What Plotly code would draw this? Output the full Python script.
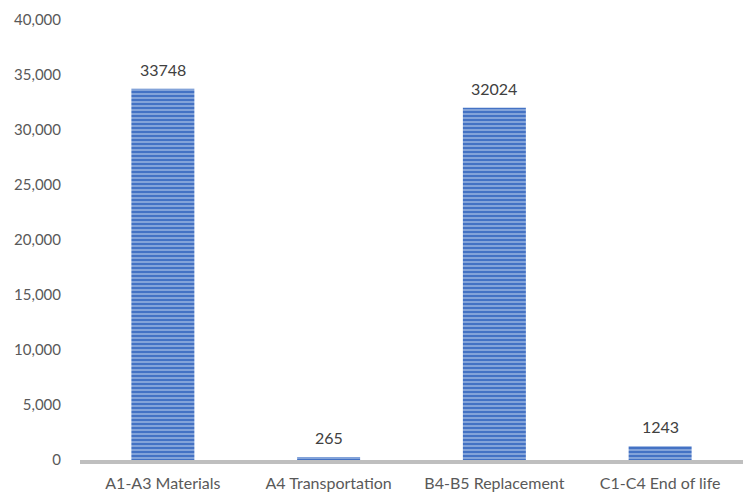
import plotly.graph_objects as go

categories = ["A1-A3 Materials", "A4 Transportation", "B4-B5 Replacement", "C1-C4 End of life"]
values = [33748, 265, 32024, 1243]
y_ticks = [0, 5000, 10000, 15000, 20000, 25000, 30000, 35000, 40000]

FONT = "Lato, Carlito, sans-serif"

fig = go.Figure(
    go.Bar(
        x=categories,
        y=values,
        width=0.38,
        marker=dict(
            color="#4472C4",
            line=dict(width=0),
            pattern=dict(shape="-", fgcolor="#D2DEF3", bgcolor="#4472C4",
                         size=4, solidity=0.45, fillmode="overlay"),
        ),
        hoverinfo="x+y",
    )
)

# value labels above each bar
for cat, val in zip(categories, values):
    fig.add_annotation(
        x=cat, y=val, text=str(val), showarrow=False,
        yanchor="bottom", yshift=8,
        font=dict(family=FONT, size=16, color="#404040"),
    )

fig.update_layout(
    width=743,
    height=494,
    margin=dict(l=80, r=0, t=20, b=34),
    paper_bgcolor="white",
    plot_bgcolor="white",
    showlegend=False,
    font=dict(family=FONT, size=15, color="#595959"),
    xaxis=dict(
        showline=True,
        linecolor="#BFBFBF",
        linewidth=4,
        ticks="",
        showgrid=False,
        ticklabelstandoff=6,
        tickfont=dict(size=16, color="#595959"),
    ),
    yaxis=dict(
        range=[0, 40000],
        tickvals=y_ticks,
        tickformat=",",
        showgrid=False,
        zeroline=False,
        showline=False,
        ticks="",
        ticklabelstandoff=18,
        tickfont=dict(size=15, color="#595959"),
    ),
)

fig.write_html("out.html")
